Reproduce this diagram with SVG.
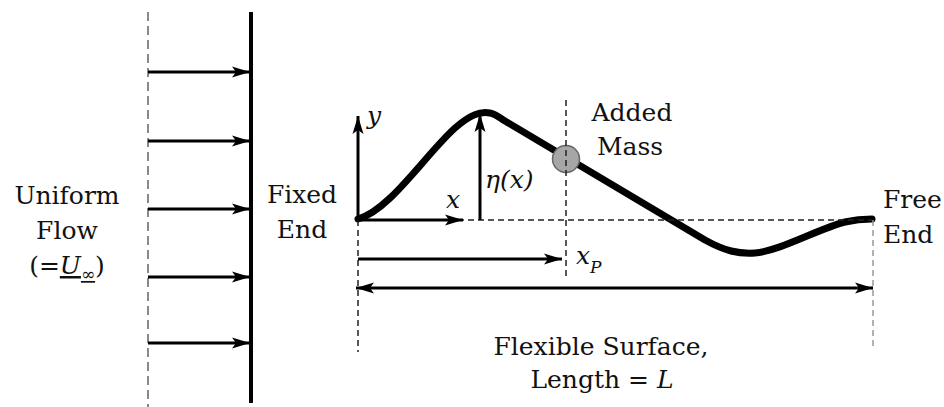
<svg xmlns="http://www.w3.org/2000/svg" width="944" height="407" viewBox="0 0 944 407">
<defs>
<style>
text{font-family:"DejaVu Serif","Liberation Serif",serif;font-size:25px;fill:#111}
.it{font-style:italic}
.arr{stroke:#000;stroke-width:3;fill:none}
.dash{stroke:#222;stroke-width:1.5;stroke-dasharray:6 4;fill:none}
.gdash{stroke:#999;stroke-width:1.5;stroke-dasharray:6 4;fill:none}
</style>
<marker id="ah" markerUnits="userSpaceOnUse" markerWidth="20" markerHeight="12" refX="18" refY="6" orient="auto-start-reverse" viewBox="0 0 20 12">
<path d="M0,0.5 L18,6 L0,11.5 L4,6 z" fill="#000"/>
</marker>
</defs>
<rect width="944" height="407" fill="#fff"/>

<g id="flow">
<line x1="148" y1="12" x2="148" y2="407" stroke="#8a8a8a" stroke-width="2" stroke-dasharray="9 5"/>
<line x1="251" y1="12" x2="251" y2="403" stroke="#000" stroke-width="4"/>
<text x="67" y="204" text-anchor="middle">Uniform</text>
<text x="67" y="239" text-anchor="middle">Flow</text>
<text x="67" y="274" text-anchor="middle">(=<tspan class="it" text-decoration="underline">U</tspan><tspan font-size="17" dy="6" text-decoration="underline">∞</tspan><tspan dy="-6">)</tspan></text>
</g>

<g id="fixed-end">
<text x="302" y="203" text-anchor="middle">Fixed</text>
<text x="302" y="238" text-anchor="middle">End</text>
</g>

<g id="free-end">
<text x="883" y="208" font-size="24">Free</text>
<text x="883" y="243" font-size="24">End</text>
</g>

<g id="added-mass">
<text x="632" y="121" text-anchor="middle">Added</text>
<text x="630" y="155" text-anchor="middle">Mass</text>
</g>

<g id="surface">
<path d="M358,219 C390,210 425,155 455,128 C470,115 480,111 490,113 C496,114 500,118 505,121 L705,240 C725,251 738,254 755,253 C780,251 820,228 845,222 C858,219 866,219 872,219" fill="none" stroke="#000" stroke-width="7" stroke-linecap="round" stroke-linejoin="round"/>
<circle cx="566" cy="159" r="13.5" fill="#a6a6a6" stroke="#666" stroke-width="1.5"/>
</g>

<g id="labels">
<text class="it" x="367" y="124">y</text>
<text class="it" x="446" y="208">x</text>
<text class="it" x="485" y="188" font-size="27">η(x)</text>
<text class="it" x="576" y="264">x<tspan font-size="17" dy="9">P</tspan></text>
<text x="601" y="355" text-anchor="middle">Flexible Surface,</text>
<text x="602" y="388" text-anchor="middle">Length = <tspan class="it">L</tspan></text>
</g>

<g id="connectors">
<line class="arr" x1="148" y1="72" x2="250" y2="72" marker-end="url(#ah)"/>
<line class="arr" x1="148" y1="141" x2="250" y2="141" marker-end="url(#ah)"/>
<line class="arr" x1="148" y1="209" x2="250" y2="209" marker-end="url(#ah)"/>
<line class="arr" x1="148" y1="277" x2="250" y2="277" marker-end="url(#ah)"/>
<line class="arr" x1="148" y1="343" x2="250" y2="343" marker-end="url(#ah)"/>
<line class="dash" x1="358" y1="220" x2="872" y2="220"/>
<line class="dash" x1="358" y1="220" x2="358" y2="352"/>
<line class="gdash" x1="873" y1="220" x2="873" y2="350"/>
<line class="dash" x1="566" y1="100" x2="566" y2="278"/>
<line class="arr" x1="358" y1="220" x2="358" y2="116" marker-end="url(#ah)"/>
<line class="arr" x1="480" y1="220" x2="480" y2="114" marker-end="url(#ah)"/>
<line class="arr" x1="358" y1="220" x2="463" y2="220" marker-end="url(#ah)"/>
<line class="arr" x1="358" y1="259" x2="562" y2="259" marker-end="url(#ah)"/>
<line class="arr" x1="356" y1="288" x2="873" y2="288" marker-start="url(#ah)" marker-end="url(#ah)"/>
</g>
</svg>
